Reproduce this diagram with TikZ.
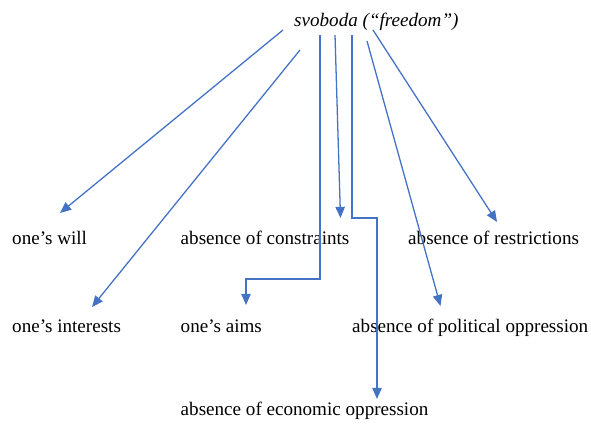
\documentclass[tikz,border=0pt]{standalone}
\usepackage{fontspec}
\setmainfont{Liberation Serif}
\usetikzlibrary{positioning,arrows.meta}
\definecolor{linkBlue}{HTML}{4472C4}
\definecolor{inkBlack}{HTML}{000000}
\tikzset{
    word/.style={inner sep=0pt,anchor=base west,text=inkBlack,
        font=\fontsize{16.3}{19}\selectfont},
    headword/.style={word,font=\fontsize{16.3}{19}\selectfont\itshape},
    link/.style={-{Triangle[length=9.5pt,width=8pt]},draw=linkBlue,line width=1.1pt}
}
\begin{document}
\begin{tikzpicture}[x=0.03cm,y=-0.03cm]
    \useasboundingbox (0,0) rectangle (591,428);
    \node[headword] (svoboda) at (294,27) {svoboda (“freedom”)};
    \node[word] (will) at (12,245) {one’s will};
    \node[word] (constraints) at (180.5,245) {absence of constraints};
    \node[word] (restrictions) at (408,245) {absence of restrictions};
    \node[word] (interests) at (12,332) {one’s interests};
    \node[word] (aims) at (180.5,332) {one’s aims};
    \node[word] (political) at (352,332) {absence of political oppression};
    \node[word] (economic) at (180.5,415) {absence of economic oppression};
    \coordinate (will-out) at (283,30);
    \coordinate (interests-out) at (300,50);
    \coordinate (aims-out) at (320,35);
    \coordinate (constraints-out) at (335,35);
    \coordinate (economic-out) at (352,35);
    \coordinate (political-out) at (367,41);
    \coordinate (restrictions-out) at (373,30);
    \coordinate (will-in) at (60,213);
    \coordinate (interests-in) at (92,307);
    \coordinate (aims-bend) at (246,279);
    \coordinate (aims-in) at (246,305);
    \coordinate (constraints-in) at (340.5,218);
    \coordinate (economic-bend) at (377,218);
    \coordinate (economic-in) at (377,399);
    \coordinate (political-in) at (440.5,306);
    \coordinate (restrictions-in) at (497,222);
    \draw[link] (will-out) -- (will-in);
    \draw[link] (interests-out) -- (interests-in);
    \draw[link] (aims-out) |- (aims-bend) -- (aims-in);
    \draw[link] (constraints-out) -- (constraints-in);
    \draw[link] (economic-out) |- (economic-bend) -- (economic-in);
    \draw[link] (political-out) -- (political-in);
    \draw[link] (restrictions-out) -- (restrictions-in);
\end{tikzpicture}
\end{document}
